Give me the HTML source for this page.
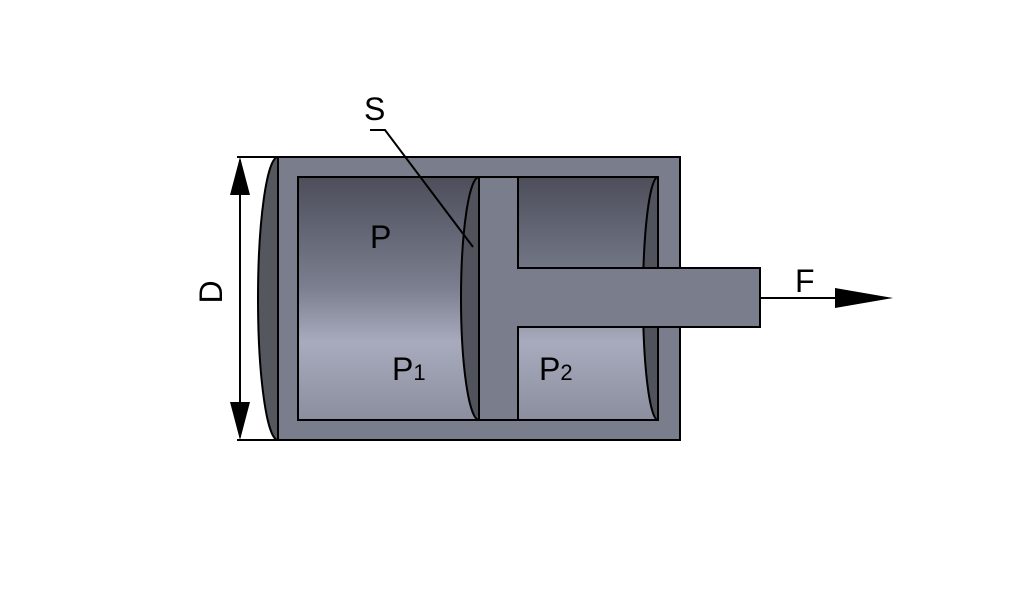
<!DOCTYPE html>
<html><head><style>body{margin:0;background:#fff}svg{display:block}</style></head><body>
<svg width="1016" height="605" viewBox="0 0 1016 605" xmlns="http://www.w3.org/2000/svg">
<defs>
<linearGradient id="cav" x1="0" y1="177" x2="0" y2="420" gradientUnits="userSpaceOnUse">
<stop offset="0" stop-color="#4c4e5a"/><stop offset="0.45" stop-color="#7a7e8e"/><stop offset="0.68" stop-color="#a7abbd"/><stop offset="1" stop-color="#8a8e9e"/>
</linearGradient>
</defs>
<g stroke="#000" stroke-width="2">
<path d="M278,157 A20,141.5 0 0 0 278,440 Z" fill="#55575f"/>
<rect x="278" y="157" width="402" height="283" fill="#7a7e8c"/>
<rect x="298" y="177" width="360" height="243" fill="url(#cav)"/>
<path d="M658,177 A15,121.5 0 0 0 658,420 Z" fill="#50525c"/>
<path d="M479,177 A18,121.5 0 0 0 479,420 Z" fill="#50525c"/>
<path d="M479,177 H518 V268 H760 V327 H518 V420 H479 Z" fill="#7a7e8c"/>
<line x1="240" y1="160" x2="240" y2="437"/>
<line x1="237" y1="157" x2="278" y2="157"/>
<line x1="237" y1="440" x2="278" y2="440"/>
<polyline points="370,130 385,130 473,247" fill="none"/>
<line x1="760" y1="298" x2="840" y2="298"/>
</g>
<polygon points="240,157 230,195 250,195" fill="#000"/>
<polygon points="240,440 230,402 250,402" fill="#000"/>
<polygon points="893,298 835,288 835,308" fill="#000"/>
<g font-family="Liberation Sans, sans-serif" fill="#000" font-size="32">
<text x="364" y="120">S</text>
<text x="370" y="248">P</text>
<text x="392" y="380">P<tspan font-size="22">1</tspan></text>
<text x="539" y="380">P<tspan font-size="22">2</tspan></text>
<text x="795" y="292">F</text>
<text transform="translate(222,292) rotate(-90)" text-anchor="middle">D</text>
</g>
</svg>
</body></html>
